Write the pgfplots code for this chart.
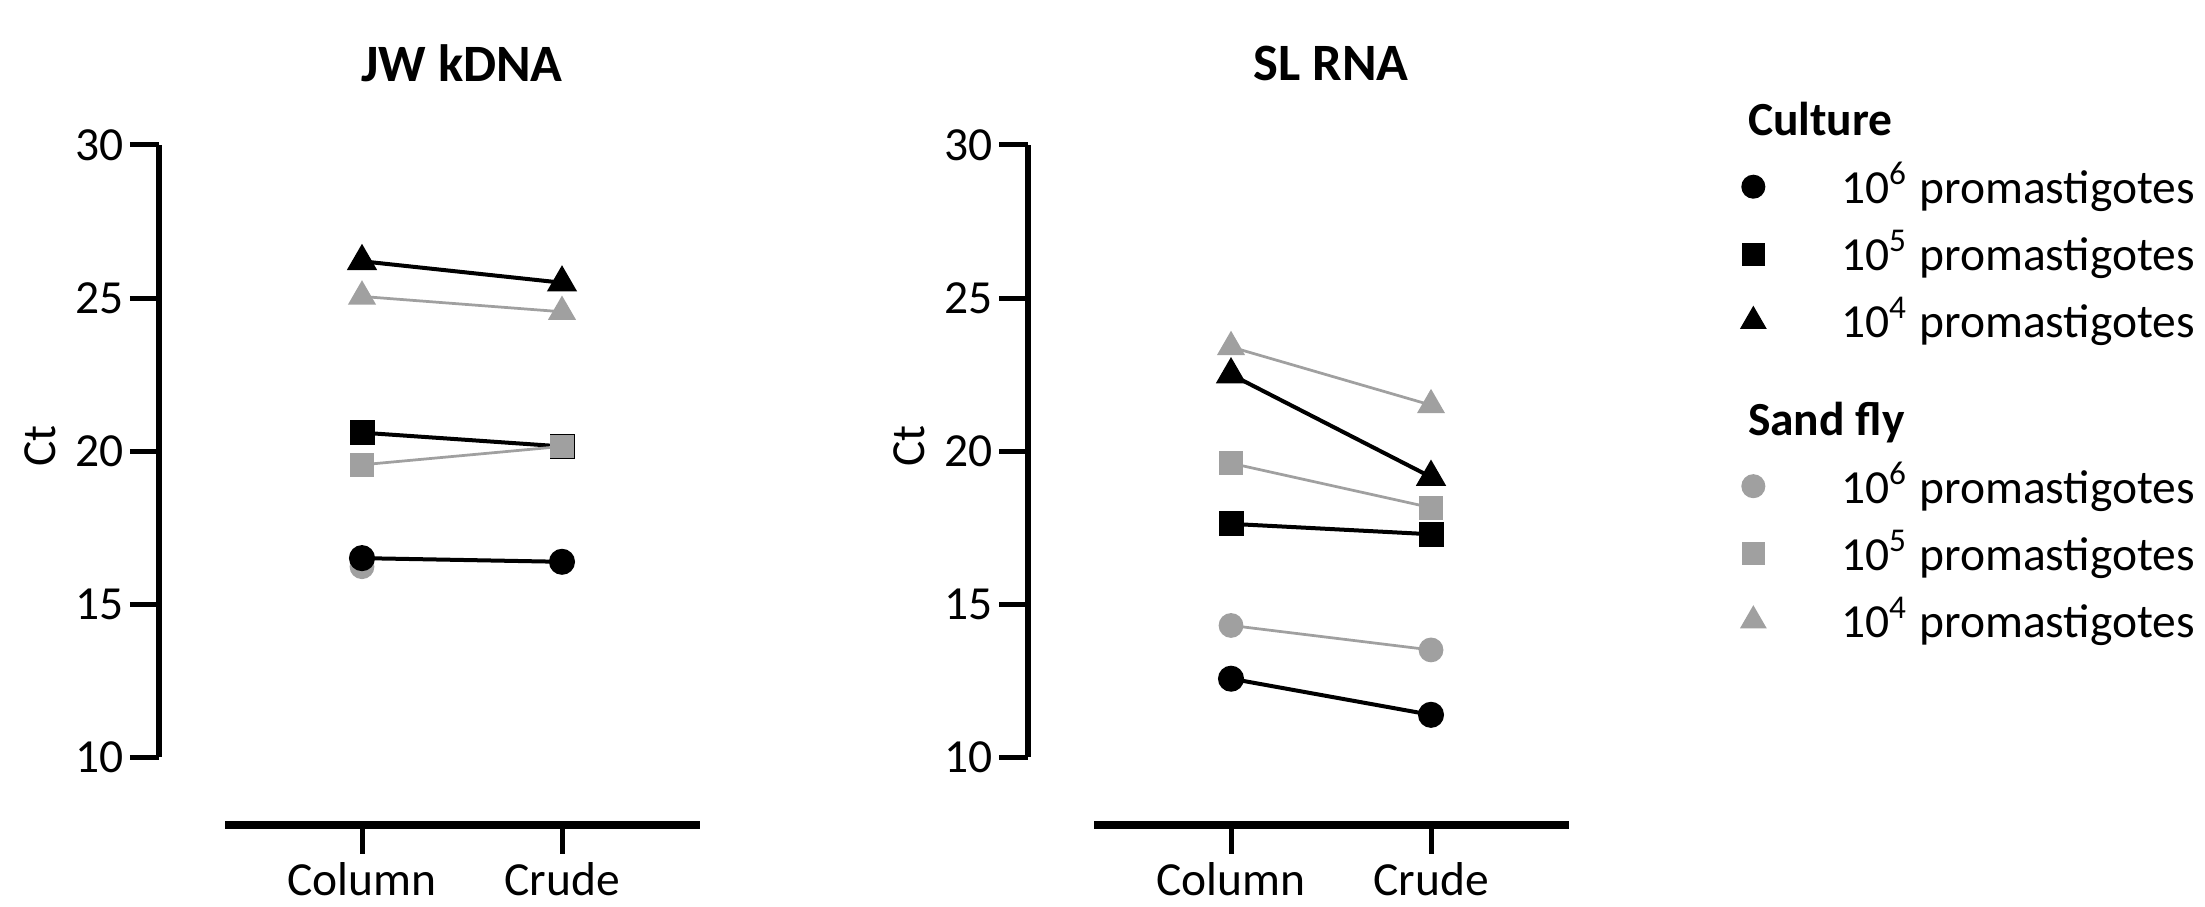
\documentclass[border=0pt]{standalone}
\usepackage{pgfplots}
\pgfplotsset{compat=1.18}
\usepackage{fontspec}
\setmainfont{Carlito}

\definecolor{sfgray}{RGB}{160,160,160}
\newcommand{\lstrut}{\rule[-2pt]{0pt}{10pt}}

\pgfplotsset{
  ctplot/.style={
    scale only axis, width=108.2pt, height=136pt,
    xmin=-1.015, xmax=1.69, ymin=7.78, ymax=30,
    axis x line=bottom, axis y line=left,
    x axis line style={-, line width=1.5pt, shorten <=13.2pt},
    y axis line style={-, line width=1.1pt, shorten <=13.6pt},
    xtick={0,1}, xticklabels={Column,Crude},
    ytick={10,15,20,25,30},
    tick align=outside, major tick length=5.8pt,
    tick style={black, line width=1pt},
    font=\fontsize{9.5}{11}\selectfont,
    ticklabel style={font=\fontsize{9.5}{11}\selectfont},
    yticklabel style={inner sep=1pt},
    xticklabel style={inner sep=1.5pt},
    /pgf/number format/assume math mode=true,
    ylabel={Ct},
    ylabel style={at={(axis description cs:-0.22,0.557)}, anchor=center},
    every axis title shift=0pt,
    title style={at={(axis description cs:0.56,1.12)}, anchor=center,
      font=\bfseries\fontsize{10.5}{12}\selectfont},
    clip=false,
  },
  cul/.style={black, line width=0.8pt, mark options={solid, fill=black, draw=black}},
  sf/.style={sfgray, line width=0.55pt, mark options={solid, fill=sfgray, draw=sfgray}},
  ci/.style={mark=*, mark size=2.2pt},
  sq/.style={mark=square*, mark size=2.1pt},
  tr/.style={mark=triangle*, mark size=2.7pt},
}

\begin{document}
\begin{tikzpicture}
\useasboundingbox (0,0) rectangle (441pt,181.4pt);

% JW kDNA
\begin{axis}[ctplot, at={(31.8pt,16.4pt)}, anchor=south west, title={JW kDNA}]
  \addplot[sf, ci] coordinates {(0,16.22)};
  \addplot[cul, ci] coordinates {(0,16.5) (1,16.38)};
  \addplot[cul, sq] coordinates {(0,20.6) (1,20.15)};
  \addplot[sf, sq] coordinates {(0,19.55) (1,20.15)};
  \addplot[cul, tr] coordinates {(0,26.2) (1,25.5)};
  \addplot[sf, tr] coordinates {(0,25.05) (1,24.55)};
\end{axis}

% SL RNA
\begin{axis}[ctplot, at={(205.6pt,16.4pt)}, anchor=south west, title={SL RNA},
  legend cell align=left,
  legend style={at={(axis description cs:1.26,1.074)}, anchor=north west,
    draw=none, fill=none, inner sep=0pt, row sep=3.8pt,
    font=\fontsize{9.5}{11}\selectfont,
    nodes={inner sep=0pt},
    /tikz/every odd column/.append style={column sep=15.2pt}},
]
  \addplot[sf, ci, forget plot] coordinates {(0,14.3) (1,13.5)};
  \addplot[cul, ci, forget plot] coordinates {(0,12.56) (1,11.38)};
  \addplot[sf, sq, forget plot] coordinates {(0,19.6) (1,18.15)};
  \addplot[cul, sq, forget plot] coordinates {(0,17.62) (1,17.28)};
  \addplot[sf, tr, forget plot] coordinates {(0,23.4) (1,21.5)};
  \addplot[cul, tr, forget plot] coordinates {(0,22.5) (1,19.15)};

  \addlegendimage{empty legend}
  \addlegendentry{\hspace*{-18.6pt}\textbf{Culture}\lstrut}
  \addlegendimage{only marks, black, mark=*, mark size=2.2pt}
  \addlegendentry{10\textsuperscript{6} promastigotes\lstrut}
  \addlegendimage{only marks, black, mark=square*, mark size=2.1pt}
  \addlegendentry{10\textsuperscript{5} promastigotes\lstrut}
  \addlegendimage{only marks, black, mark=triangle*, mark size=2.7pt}
  \addlegendentry{10\textsuperscript{4} promastigotes\lstrut}
  \addlegendimage{empty legend}
  \addlegendentry{\hspace*{-18.6pt}\textbf{Sand fly}\rule[-2pt]{0pt}{16.2pt}}
  \addlegendimage{only marks, sfgray, mark=*, mark size=2.2pt}
  \addlegendentry{10\textsuperscript{6} promastigotes\lstrut}
  \addlegendimage{only marks, sfgray, mark=square*, mark size=2.1pt}
  \addlegendentry{10\textsuperscript{5} promastigotes\lstrut}
  \addlegendimage{only marks, sfgray, mark=triangle*, mark size=2.7pt}
  \addlegendentry{10\textsuperscript{4} promastigotes\lstrut}
\end{axis}
\end{tikzpicture}
\end{document}
